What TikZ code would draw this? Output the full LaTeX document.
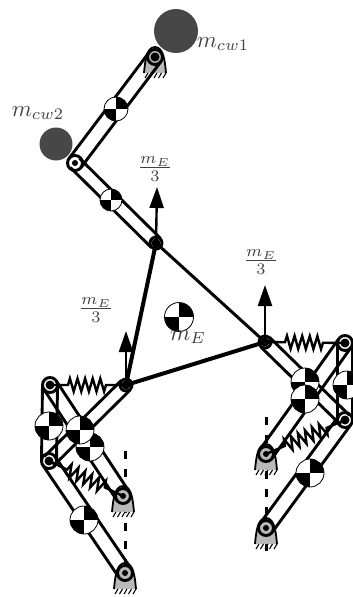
\documentclass[tikz,border=0pt]{standalone}
\usetikzlibrary{arrows.meta,calc,decorations.pathmorphing}

\tikzset{
	barline/.style={line width=2.9pt},
	pulley/.style={circle,draw,line width=2.9pt,minimum size=#1,inner sep=0pt},
	pulley/.default=15pt,
	pin/.style={circle,fill=black,minimum size=#1,inner sep=0pt},
	pin/.default=6pt,
	thickbar/.style={line width=4pt,line cap=round},
	springline/.style={line width=2.4pt,decorate,decoration={zigzag,amplitude=6.5pt,segment length=7.6pt,pre length=#1,post length=#1}},
	springline/.default=20pt,
	forcearrow/.style={line width=2.4pt,-{Triangle[length=21pt,width=14pt]}},
	dashline/.style={line width=3pt,dash pattern=on 8pt off 10pt},
	balance/.style={circle,fill=black!72},
	cog/.style={circle,draw,fill=white,line width=0.8pt,minimum size=#1,inner sep=0pt,
		path picture={
			\fill[black] (path picture bounding box.center) rectangle (path picture bounding box.north east);
			\fill[black] (path picture bounding box.center) rectangle (path picture bounding box.south west);
		}},
	cog/.default=28pt,
	lbl/.style={inner sep=0pt,text=black!75,scale=2.3},
	pics/support/.style={code={
		\fill[gray!55] (-11,16) .. controls (-10,6) and (-9,-10) .. (0,-10) .. controls (9,-10) and (10,6) .. (11,16) -- cycle;
		\draw[line width=1.8pt] (-11,16) .. controls (-10,6) and (-9,-10) .. (0,-10) .. controls (9,-10) and (10,6) .. (11,16);
		\foreach \hx in {-9,-4.5,0,4.5,9}
			\draw[line width=1.1pt] (\hx+2,16) -- (\hx-1,21);
	}}
}

% one link: two parallel lines
\newcommand{\linkbar}[3][7.5pt]{
	\draw[barline] ($(#2)!#1!90:(#3)$) -- ($(#3)!#1!-90:(#2)$);
	\draw[barline] ($(#2)!#1!-90:(#3)$) -- ($(#3)!#1!90:(#2)$);
}

\begin{document}
\begin{tikzpicture}[x=1pt,y=-1pt]
	\useasboundingbox (0,0) rectangle (353,597);

	% Joints
	\coordinate (shoulder) at (155,57);
	\coordinate (elbow) at (75,163);
	\coordinate (top) at (156,243);
	\coordinate (left) at (126,385);
	\coordinate (right) at (265,342);
	\coordinate (lknee) at (50,385);
	\coordinate (lfoot) at (49,461);
	\coordinate (lpivA) at (123,496);
	\coordinate (lpivB) at (125,573);
	\coordinate (rknee) at (345,343);
	\coordinate (rfoot) at (345,420);
	\coordinate (rpivA) at (266,454);
	\coordinate (rpivB) at (266,528);

	% Dashed verticals
	\coordinate (ldashA) at (125,451);
	\coordinate (ldashB) at (125,590);
	\coordinate (rdashA) at (266,417);
	\coordinate (rdashB) at (266,556);
	\draw[dashline] (ldashA) -- (ldashB);
	\draw[dashline] (rdashA) -- (rdashB);

	% Supports
	\pic at (shoulder) {support};
	\pic at (lpivA) {support};
	\pic at (lpivB) {support};
	\pic at (rpivA) {support};
	\pic at (rpivB) {support};

	% Counterweights
	\node[balance,minimum size=44pt] (cwa) at (176,31) {};
	\node[balance,minimum size=33pt] (cwb) at (56,144) {};

	% Links
	\linkbar{shoulder}{elbow}
	\linkbar[6.5pt]{elbow}{top}
	\linkbar[6.5pt]{left}{lfoot}
	\linkbar{lknee}{lfoot}
	\linkbar{lknee}{lpivA}
	\linkbar{lfoot}{lpivB}
	\linkbar[6.5pt]{right}{rfoot}
	\linkbar{rknee}{rfoot}
	\linkbar{rknee}{rpivA}
	\linkbar{rfoot}{rpivB}

	% Platform
	\draw[thickbar] (top) -- (left);
	\draw[thickbar] (left) -- (right);
	\draw[line width=3pt] (top) -- (right);

	% Springs
	\draw[springline=18pt] (lknee) -- (left);
	\draw[springline=20pt] (lfoot) -- (lpivA);
	\draw[springline=20pt] (right) -- (rknee);
	\draw[springline=20pt] (rfoot) -- (rpivA);

	% Joint circles
	\foreach \jn in {shoulder,elbow,lknee,lfoot,rknee,rfoot,lpivA,lpivB,rpivA,rpivB}
		\node[pulley] (c\jn) at (\jn) {};
	\foreach \jn in {top,left,right}
		\node[pulley=12pt] (c\jn) at (\jn) {};
	\foreach \jn in {shoulder,lknee,lfoot,rknee,rfoot,top,left,right}
		\node[pin=9pt] (p\jn) at (\jn) {};
	\foreach \jn in {elbow,lpivA,lpivB,rpivA,rpivB}
		\node[pin] (p\jn) at (\jn) {};

	% Forces
	\coordinate (topend) at (157,187);
	\coordinate (leftend) at (126,331);
	\coordinate (rightend) at (265,285);
	\draw[forcearrow] (top) -- (topend);
	\draw[forcearrow] (left) -- (leftend);
	\draw[forcearrow] (right) -- (rightend);

	% Centres of mass
	\node[cog=24pt] (coma) at (116,109) {};
	\node[cog=22pt] (comb) at (111,200) {};
	\node[cog=29pt] (come) at (179,317) {};
	\node[cog] (comc) at (49,426) {};
	\node[cog] (comd) at (90,447) {};
	\node[cog] (comf) at (80,430) {};
	\node[cog] (comg) at (84,520) {};
	\node[cog] (comh) at (347,385) {};
	\node[cog] (comi) at (305,382) {};
	\node[cog] (comj) at (305,399) {};
	\node[cog] (comk) at (310,473) {};

	% Labels
	\node[lbl] (lcwa) at (223,44) {$m_{cw1}$};
	\node[lbl] (lcwb) at (38,113) {$m_{cw2}$};
	\node[lbl] (lme) at (188,337) {$m_E$};
	\node[lbl] (lfa) at (155,169) {$\frac{m_E}{3}$};
	\node[lbl] (lfb) at (96,310) {$\frac{m_E}{3}$};
	\node[lbl] (lfc) at (261,262) {$\frac{m_E}{3}$};
\end{tikzpicture}
\end{document}
